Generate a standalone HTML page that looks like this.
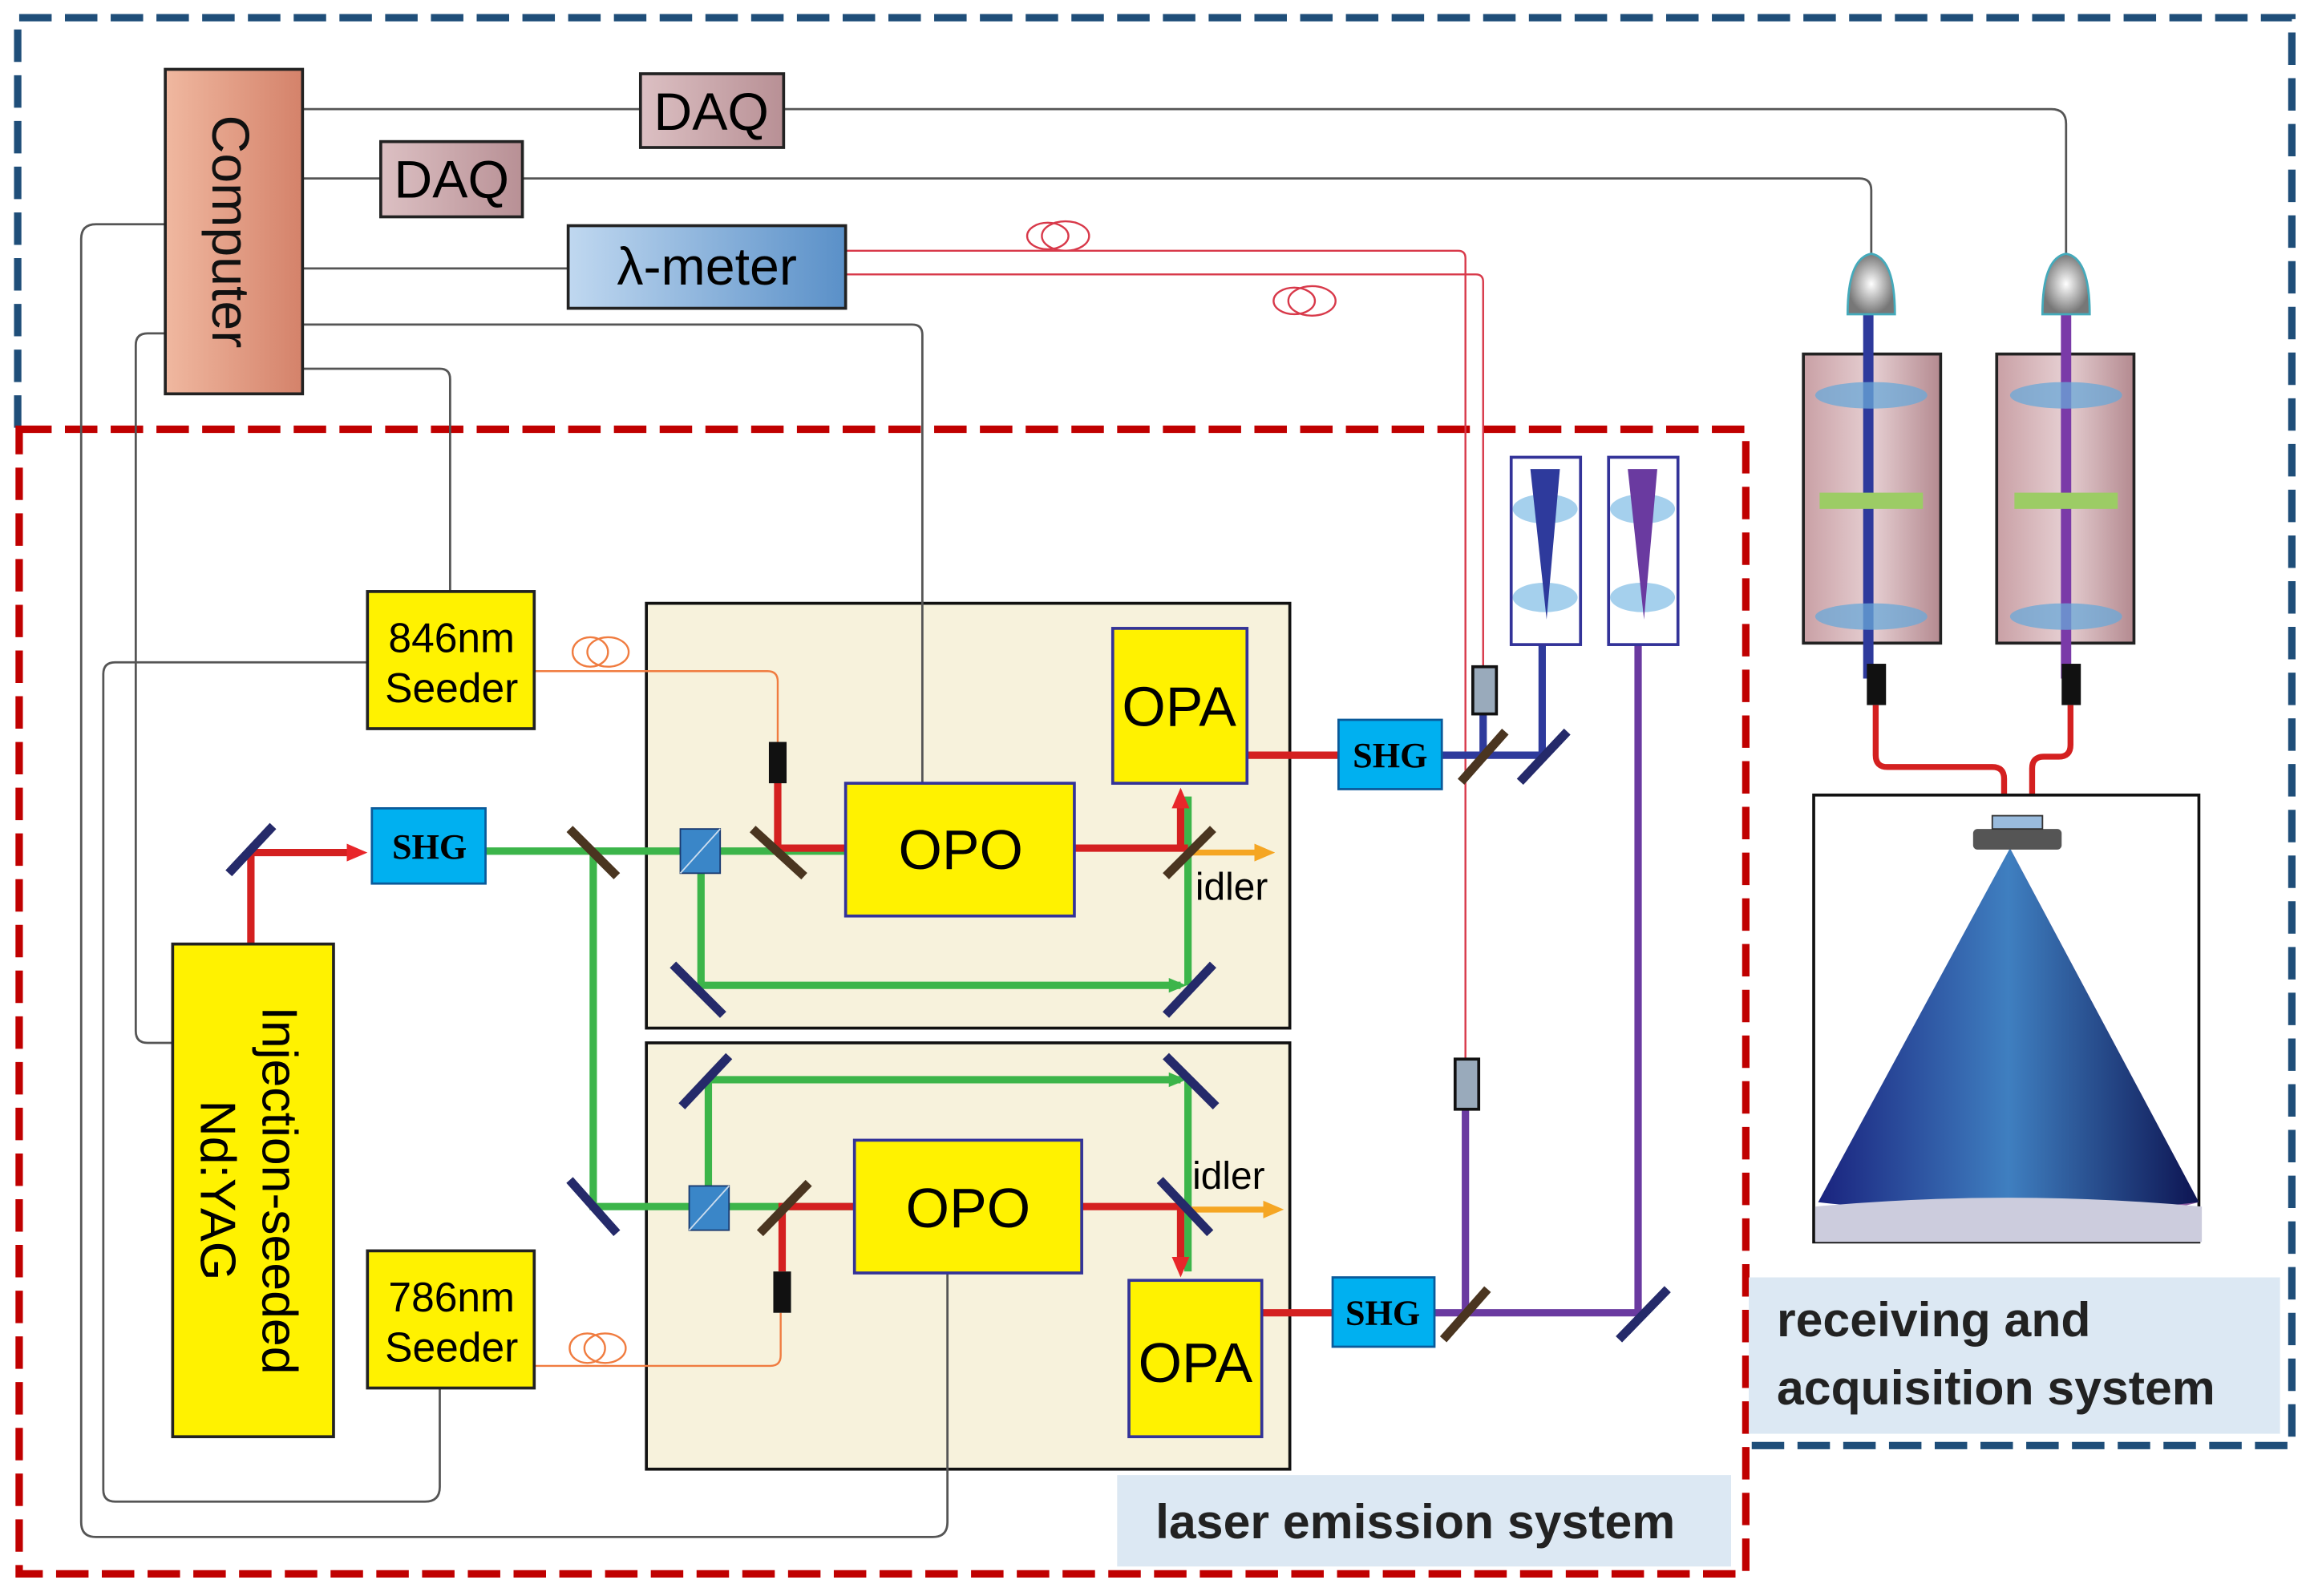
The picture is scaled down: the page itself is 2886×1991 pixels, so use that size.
<!DOCTYPE html>
<html><head><meta charset="utf-8"><style>
html,body{margin:0;padding:0;background:#fff}
svg{display:block}
text{font-family:"Liberation Sans","DejaVu Sans",sans-serif}
</style></head><body>
<svg width="2886" height="1991" viewBox="0 0 1568 1082" preserveAspectRatio="none" xmlns="http://www.w3.org/2000/svg">
<defs>
<linearGradient id="comp" x1="0" x2="1"><stop offset="0" stop-color="#f0b8a0"/><stop offset="1" stop-color="#d4826a"/></linearGradient>
<linearGradient id="lam" x1="0" x2="1"><stop offset="0" stop-color="#c0d8f0"/><stop offset="1" stop-color="#5a90c8"/></linearGradient>
<linearGradient id="daq" x1="0" x2="1"><stop offset="0" stop-color="#dcc0c3"/><stop offset="1" stop-color="#b89095"/></linearGradient>
<linearGradient id="tube" x1="0" x2="1"><stop offset="0" stop-color="#c9a0a5"/><stop offset="0.5" stop-color="#e6cfd2"/><stop offset="1" stop-color="#b48a90"/></linearGradient>
<linearGradient id="cone" x1="0" x2="1"><stop offset="0" stop-color="#1a237e"/><stop offset="0.5" stop-color="#3f7fc0"/><stop offset="1" stop-color="#0d1452"/></linearGradient>
<radialGradient id="pmt"><stop offset="0" stop-color="#fff"/><stop offset="1" stop-color="#777"/></radialGradient>
<marker id="ar" markerUnits="userSpaceOnUse" markerWidth="14" markerHeight="14" refX="8" refY="7" orient="auto"><path d="M0,1 L14,7 L0,13z" fill="#e8262a"/></marker>
<marker id="ao" markerUnits="userSpaceOnUse" markerWidth="14" markerHeight="14" refX="8" refY="7" orient="auto"><path d="M0,1 L14,7 L0,13z" fill="#f5a623"/></marker>
<marker id="ag" markerUnits="userSpaceOnUse" markerWidth="12" markerHeight="12" refX="8" refY="6" orient="auto"><path d="M0,1 L12,6 L0,11z" fill="#3cb54a"/></marker>
</defs>

<!-- dashed system borders -->
<path d="M12,290 V12 H1553 V980 H1183" fill="none" stroke="#1f4e79" stroke-width="5" stroke-dasharray="22,9"/>
<rect x="13" y="291" width="1170" height="776" fill="none" stroke="#c00000" stroke-width="5" stroke-dasharray="22,9"/>

<!-- OPO enclosures -->
<rect x="438" y="409" width="436" height="288" fill="#f7f2dc" stroke="#111" stroke-width="2"/>
<rect x="438" y="707" width="436" height="289" fill="#f7f2dc" stroke="#111" stroke-width="2"/>

<!-- gray control wires -->
<g fill="none" stroke="#555" stroke-width="1.5">
<path d="M205,74 H434"/><path d="M531,74 H1390 q10,0 10,10 V175"/>
<path d="M205,121 H258"/><path d="M354,121 H1260 q8,0 8,8 V175"/>
<path d="M205,182 H385"/>
<path d="M205,220 H618 q7,0 7,7 V531"/>
<path d="M112,152 H65 q-10,0 -10,10 V1032 q0,10 10,10 H632 q10,0 10,-10 V863"/>
<path d="M112,226 H100 q-8,0 -8,8 V699 q0,8 8,8 H117"/>
<path d="M205,250 H298 q7,0 7,7 V401"/>
<path d="M249,449 H78 q-8,0 -8,8 V1010 q0,8 8,8 H288 q10,0 10,-10 V941"/>
</g>

<!-- fibers red -->
<g fill="none" stroke="#d8394a" stroke-width="1.3">
<path d="M573,170 H988 q5,0 5,5 V718"/>
<path d="M573,186 H1000 q5,0 5,5 V452"/>
<ellipse cx="710" cy="160" rx="14" ry="9"/><ellipse cx="722" cy="160" rx="16" ry="10"/>
<ellipse cx="877" cy="204" rx="14" ry="9"/><ellipse cx="889" cy="204" rx="16" ry="10"/>
</g>
<g fill="none" stroke="#f07c40" stroke-width="1.3">
<path d="M362,455 H520 q7,0 7,7 V503"/>
<path d="M362,926 H522 q7,0 7,-7 V890"/>
<ellipse cx="400" cy="442" rx="12" ry="10"/><ellipse cx="412" cy="442" rx="14" ry="10"/>
<ellipse cx="398" cy="914" rx="12" ry="10"/><ellipse cx="410" cy="914" rx="14" ry="10"/>
</g>

<!-- Computer / DAQ / lambda -->
<rect x="112" y="47" width="93" height="220" fill="url(#comp)" stroke="#222" stroke-width="2"/>
<text transform="translate(144,157) rotate(90)" font-size="36" text-anchor="middle" fill="#111">Computer</text>
<rect x="434" y="50" width="97" height="50" fill="url(#daq)" stroke="#222" stroke-width="2"/>
<text x="482" y="88" font-size="36" text-anchor="middle">DAQ</text>
<rect x="258" y="96" width="96" height="51" fill="url(#daq)" stroke="#222" stroke-width="2"/>
<text x="306" y="134" font-size="36" text-anchor="middle">DAQ</text>
<rect x="385" y="153" width="188" height="56" fill="url(#lam)" stroke="#222" stroke-width="2"/>
<text x="479" y="193" font-size="36" text-anchor="middle">λ-meter</text>

<!-- beams green -->
<g fill="none" stroke="#3cb54a" stroke-width="5">
<path d="M329,577 H475"/><path d="M402,577 V818 H480"/>
<path d="M475,577 V668 H800" marker-end="url(#ag)"/>
<path d="M475,577 H575"/>
<path d="M805,668 V540"/>
<path d="M480,818 V732 H800" marker-end="url(#ag)"/>
<path d="M805,732 V862"/>
<path d="M480,818 H580"/>
</g>
<!-- beams red -->
<g fill="none" stroke="#d42020" stroke-width="5">
<path d="M170,640 V578 H243" marker-end="url(#ar)"/>
<path d="M527,530 V575 H575"/>
<path d="M728,575 H805"/>
<path d="M800,575 V540" marker-end="url(#ar)"/>
<path d="M845,512 H907"/>
<path d="M530,862 V818 H580"/>
<path d="M733,818 H800 V860" marker-end="url(#ar)"/>
<path d="M855,890 H903"/>
</g>
<g stroke="#f5a623" stroke-width="4" fill="none">
<path d="M805,578 H858" marker-end="url(#ao)"/><path d="M805,820 H864" marker-end="url(#ao)"/>
</g>
<text x="810" y="610" font-size="26">idler</text>
<text x="808" y="806" font-size="26">idler</text>

<!-- blue/purple UV beams -->
<g fill="none" stroke-width="5">
<path d="M977,512 H1045 V330" stroke="#2e3a9c"/>
<path d="M1005,512 V480" stroke="#2e3a9c"/>
<path d="M972,890 H1110 V330" stroke="#6a3aa0"/>
<path d="M993,890 V750" stroke="#6a3aa0"/>
</g>

<!-- mirrors -->
<g stroke-width="6" stroke-linecap="butt">
<path d="M155,592 L185,560" stroke="#252a6a"/>
<path d="M386,562 L418,594" stroke="#4a3520"/>
<path d="M510,562 L545,594" stroke="#4a3520"/>
<path d="M790,594 L822,562" stroke="#4a3520"/>
<path d="M456,654 L490,688" stroke="#252a6a"/>
<path d="M790,688 L822,654" stroke="#252a6a"/>
<path d="M462,750 L494,716" stroke="#252a6a"/>
<path d="M790,716 L824,750" stroke="#252a6a"/>
<path d="M386,800 L418,836" stroke="#252a6a"/>
<path d="M515,836 L548,802" stroke="#4a3520"/>
<path d="M786,800 L820,836" stroke="#252a6a"/>
<path d="M990,530 L1020,496" stroke="#4a3520"/>
<path d="M1030,530 L1062,496" stroke="#252a6a"/>
<path d="M978,908 L1008,874" stroke="#4a3520"/>
<path d="M1097,908 L1130,874" stroke="#252a6a"/>
</g>
<!-- beam splitters -->
<rect x="461" y="562" width="27" height="30" fill="#3a86c8" stroke="#1a3a70"/><path d="M461,592 L488,562" stroke="#cde" />
<rect x="467" y="804" width="27" height="30" fill="#3a86c8" stroke="#1a3a70"/><path d="M467,834 L494,804" stroke="#cde" />
<!-- detectors small -->
<rect x="521" y="503" width="12" height="28" fill="#111"/>
<rect x="524" y="862" width="12" height="28" fill="#111"/>
<rect x="998" y="452" width="16" height="32" fill="#9ab" stroke="#111" stroke-width="2"/>
<rect x="986" y="718" width="16" height="34" fill="#9ab" stroke="#111" stroke-width="2"/>

<!-- yellow boxes -->
<g stroke="#333399" stroke-width="2" fill="#fff200">
<rect x="573" y="531" width="155" height="90"/>
<rect x="754" y="426" width="91" height="105"/>
<rect x="579" y="773" width="154" height="90"/>
<rect x="765" y="868" width="90" height="106"/>
</g>
<g stroke="#222" stroke-width="2" fill="#fff200">
<rect x="249" y="401" width="113" height="93"/>
<rect x="249" y="848" width="113" height="93"/>
<rect x="117" y="640" width="109" height="334"/>
</g>
<text x="651" y="589" font-size="38" text-anchor="middle">OPO</text>
<text x="799" y="492" font-size="38" text-anchor="middle">OPA</text>
<text x="656" y="832" font-size="38" text-anchor="middle">OPO</text>
<text x="810" y="937" font-size="38" text-anchor="middle">OPA</text>
<text x="306" y="442" font-size="28" text-anchor="middle">846nm</text>
<text x="306" y="476" font-size="28" text-anchor="middle">Seeder</text>
<text x="306" y="889" font-size="28" text-anchor="middle">786nm</text>
<text x="306" y="923" font-size="28" text-anchor="middle">Seeder</text>
<text transform="translate(178,807) rotate(90)" font-size="34" text-anchor="middle">Injection-seeded</text>
<text transform="translate(136,807) rotate(90)" font-size="34" text-anchor="middle">Nd:YAG</text>

<!-- SHG boxes -->
<g fill="#00b0f0" stroke="#0a5a9a" stroke-width="1.5">
<rect x="252" y="548" width="77" height="51"/><rect x="907" y="488" width="70" height="47"/><rect x="903" y="866" width="69" height="47"/>
</g>
<g font-weight="bold" font-size="24" text-anchor="middle">
<text x="291" y="582" style="font-family:'Liberation Serif',serif">SHG</text>
<text x="942" y="520" style="font-family:'Liberation Serif',serif">SHG</text>
<text x="937" y="898" style="font-family:'Liberation Serif',serif">SHG</text>
</g>

<!-- beam expanders -->
<rect x="1024" y="310" width="47" height="127" fill="#fff" stroke="#333399" stroke-width="2"/>
<rect x="1090" y="310" width="47" height="127" fill="#fff" stroke="#333399" stroke-width="2"/>
<ellipse cx="1047" cy="345" rx="22" ry="10" fill="#8ec4e8" opacity=".8"/><ellipse cx="1047" cy="405" rx="22" ry="10" fill="#8ec4e8" opacity=".8"/>
<ellipse cx="1113" cy="345" rx="22" ry="10" fill="#8ec4e8" opacity=".8"/><ellipse cx="1113" cy="405" rx="22" ry="10" fill="#8ec4e8" opacity=".8"/>
<path d="M1037,318 L1057,318 L1048,420z" fill="#2e3a9c"/>
<path d="M1103,318 L1123,318 L1114,420z" fill="#6a3aa0"/>

<!-- receiving telescopes -->
<rect x="1222" y="240" width="93" height="196" fill="url(#tube)" stroke="#222" stroke-width="2"/>
<rect x="1353" y="240" width="93" height="196" fill="url(#tube)" stroke="#222" stroke-width="2"/>
<path d="M1266,200 V460" stroke="#2e3a9c" stroke-width="7"/>
<path d="M1400,200 V460" stroke="#7a3aa8" stroke-width="7"/>
<g fill="#6aa8d8" opacity=".75">
<ellipse cx="1268" cy="268" rx="38" ry="9"/><ellipse cx="1268" cy="418" rx="38" ry="9"/>
<ellipse cx="1400" cy="268" rx="38" ry="9"/><ellipse cx="1400" cy="418" rx="38" ry="9"/>
</g>
<rect x="1233" y="334" width="70" height="11" fill="#9ccc65"/>
<rect x="1365" y="334" width="70" height="11" fill="#9ccc65"/>
<path d="M1252,213 Q1252,175 1268,172 Q1284,175 1284,213z" fill="url(#pmt)" stroke="#4ab" stroke-width="1.5"/>
<path d="M1384,213 Q1384,175 1400,172 Q1416,175 1416,213z" fill="url(#pmt)" stroke="#4ab" stroke-width="1.5"/>
<rect x="1265" y="450" width="13" height="28" fill="#111"/>
<rect x="1397" y="450" width="13" height="28" fill="#111"/>
<path d="M1271,478 V512 q0,8 8,8 H1350 q8,0 8,8 V555" fill="none" stroke="#d42020" stroke-width="4"/>
<path d="M1403,478 V505 q0,8 -8,8 H1385 q-8,0 -8,8 V555" fill="none" stroke="#d42020" stroke-width="4"/>

<!-- receiver screen -->
<rect x="1229" y="539" width="261" height="303" fill="#fff" stroke="#111" stroke-width="2"/>
<path d="M1362,575 L1490,815 L1470,820z" fill="#8a5aa0"/>
<path d="M1362,575 L1232,815 Q1360,830 1490,815z" fill="url(#cone)"/>
<path d="M1230,818 Q1360,806 1492,818 V842 H1230z" fill="#ccd" />
<rect x="1337" y="562" width="60" height="14" rx="3" fill="#555"/>
<rect x="1350" y="553" width="34" height="9" fill="#9bd" stroke="#333"/>

<!-- labels -->
<rect x="1185" y="866" width="360" height="106" fill="#dce8f3"/>
<text x="1204" y="906" font-size="33" font-weight="bold" fill="#222">receiving and</text>
<text x="1204" y="952" font-size="33" font-weight="bold" fill="#222">acquisition system</text>
<rect x="757" y="1000" width="416" height="62" fill="#dce8f3"/>
<text x="783" y="1043" font-size="33" font-weight="bold" fill="#222">laser emission system</text>
</svg>
</body></html>
